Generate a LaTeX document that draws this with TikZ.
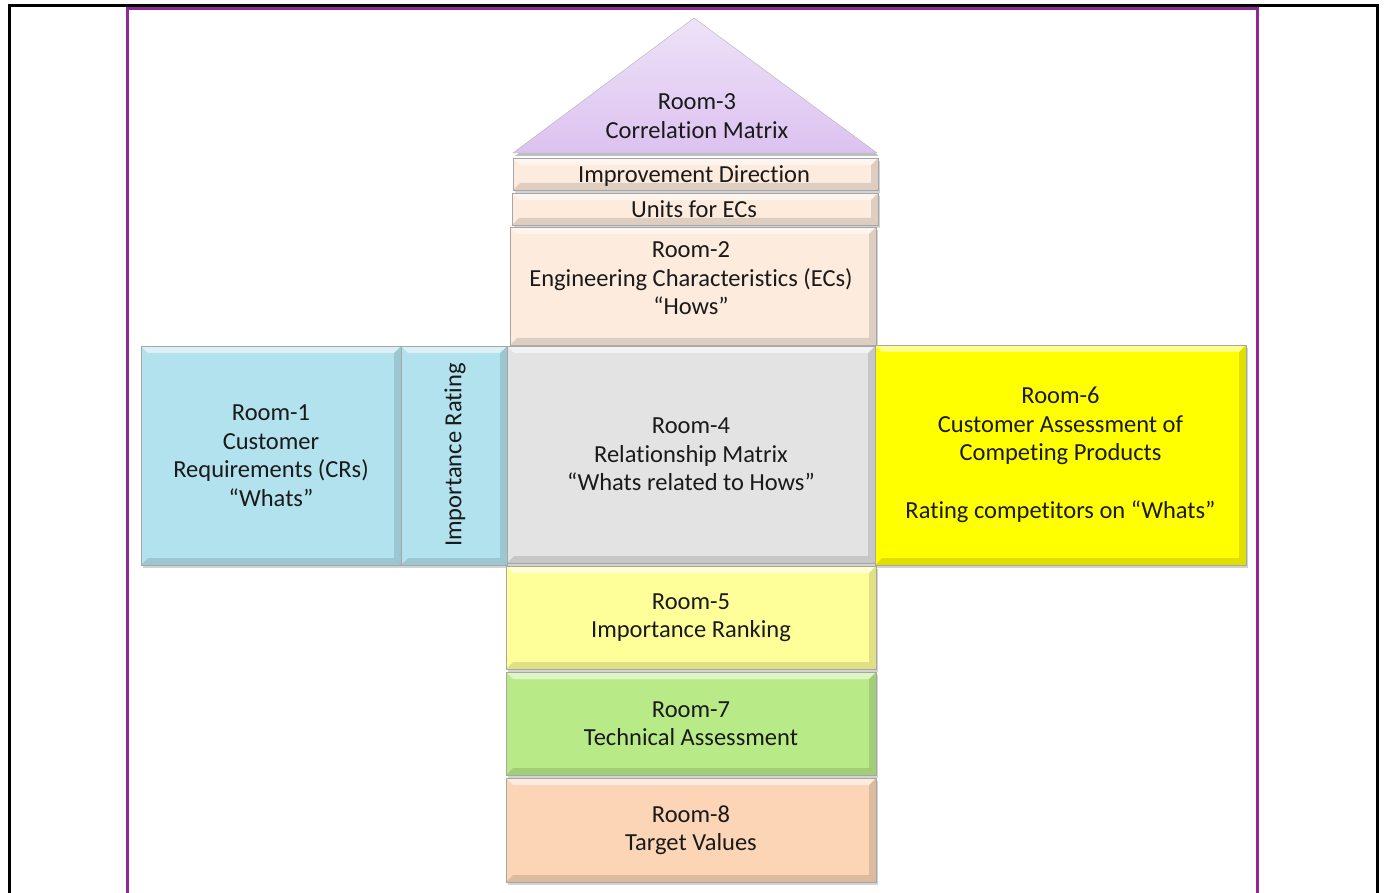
\documentclass[tikz,border=0pt]{standalone}
\usepackage{fontspec}
\setmainfont{Carlito}[Ligatures={NoCommon}]
\usetikzlibrary{shadows}
\definecolor{roofc}{HTML}{DCC2F0}
\definecolor{roofl}{HTML}{EEE2F8}
\definecolor{peachl}{HTML}{FDEBDD}
\definecolor{bluec}{HTML}{B2E2EE}
\definecolor{grayc}{HTML}{E3E3E3}
\definecolor{yelc}{HTML}{FFFF00}
\definecolor{lyelc}{HTML}{FFFF99}
\definecolor{greenc}{HTML}{B8EB87}
\definecolor{peachc}{HTML}{FCD5B6}
\definecolor{purpc}{HTML}{8E2A96}
\definecolor{txtc}{HTML}{1A1A1A}
\tikzset{
  roomfont/.style={text=txtc, font=\fontsize{24.5}{28.5}\selectfont},
  room/.style={draw=black!35, line width=0.8pt, inner sep=0pt, outer sep=0pt,
    align=center, roomfont,
    drop shadow={shadow xshift=2pt, shadow yshift=-3pt, opacity=.35},
    path picture={
      \fill[white, opacity=.55] (path picture bounding box.north west) -- (path picture bounding box.north east)
        -- ([shift={(-\bw,\bw)}]path picture bounding box.north east) -- ([shift={(\bw,\bw)}]path picture bounding box.north west) -- cycle;
      \fill[black, opacity=.12] (path picture bounding box.south west) -- (path picture bounding box.south east)
        -- ([shift={(-\bw,-\bw)}]path picture bounding box.south east) -- ([shift={(\bw,-\bw)}]path picture bounding box.south west) -- cycle;
      \fill[black, opacity=.12] (path picture bounding box.north east) -- (path picture bounding box.south east)
        -- ([shift={(-\bw,-\bw)}]path picture bounding box.south east) -- ([shift={(-\bw,\bw)}]path picture bounding box.north east) -- cycle;
    }},
  frameline/.style={line width=3pt}
}
\def\bw{7}
\begin{document}
\begin{tikzpicture}[x=1pt,y=-1pt]
\useasboundingbox (0,0) rectangle (1385,893);
% frames
\draw[frameline, black] (9,893) -- (9,6) -- (1377,6) -- (1377,893);
\draw[frameline, purpc] (127,893) -- (127,8.5) -- (1257,8.5) -- (1257,893);
% roof
\coordinate (roofL) at (513,153);
\coordinate (roofR) at (877,153);
\coordinate (roofT) at (694,18);
\fill[black, opacity=.25] ([shift={(2,3)}]roofL) -- ([shift={(2,3)}]roofT) -- ([shift={(2,3)}]roofR) -- cycle;
\shade[top color=roofl, bottom color=roofc, draw=black!30] (roofL) -- (roofT) -- (roofR) -- cycle;
\node[align=center, roomfont] (r3) at (697,116) {Room-3\\Correlation Matrix};
% rooms
\node[room, fill=peachl, minimum width=365pt, minimum height=32pt] (imp) at (695.5,174) {};
\node[roomfont] (impt) at (694,176) {Improvement Direction};
\node[room, fill=peachl, minimum width=366pt, minimum height=32pt] (units) at (695,209) {};
\node[roomfont] (unitst) at (694,209.5) {Units for ECs};
\node[room, fill=peachl, minimum width=366pt, minimum height=118pt] (r2) at (693,286) {};
\node[align=center, roomfont] (r2t) at (691,278.5) {Room-2\\Engineering Characteristics (ECs)\\“Hows”};
\node[room, fill=bluec, minimum width=260pt, minimum height=219pt] (r1) at (271,455.5) {Room-1\\Customer\\Requirements (CRs)\\“Whats”};
\node[room, fill=bluec, minimum width=106pt, minimum height=219pt] (ir) at (454,455.5) {};
\node[rotate=90, roomfont] (irt) at (455,455) {Importance Rating};
\node[room, fill=grayc, minimum width=368pt, minimum height=217pt] (r4) at (691,454.5) {Room-4\\Relationship Matrix\\“Whats related to Hows”};
\node[room, fill=yelc, minimum width=371pt, minimum height=220pt] (r6) at (1060.5,455) {Room-6\\Customer Assessment of\\Competing Products\\[29pt]Rating competitors on “Whats”};
\node[room, fill=lyelc, minimum width=370pt, minimum height=103pt] (r5) at (691,617.5) {Room-5\\Importance Ranking};
\node[room, fill=greenc, minimum width=370pt, minimum height=103pt] (r7) at (691,723.5) {Room-7\\Technical Assessment};
\node[room, fill=peachc, minimum width=370pt, minimum height=104pt] (r8) at (691,830) {Room-8\\Target Values};
\end{tikzpicture}
\end{document}
